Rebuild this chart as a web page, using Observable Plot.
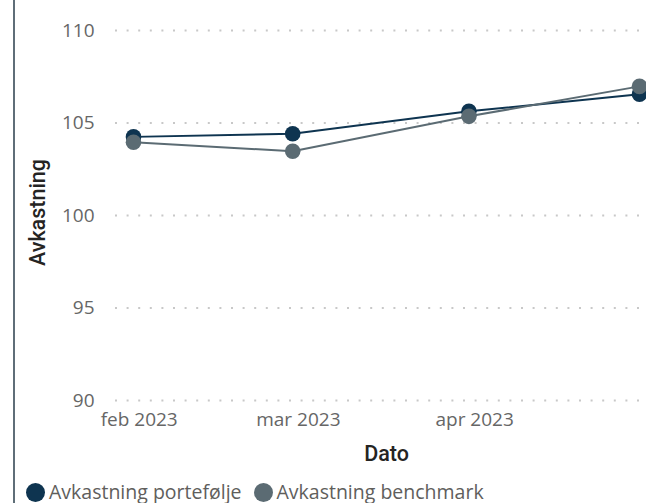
<!DOCTYPE html>
<html>
<head>
<meta charset="utf-8">
<script src="https://cdn.jsdelivr.net/npm/d3@7"></script>
<script src="https://cdn.jsdelivr.net/npm/@observablehq/plot@0.6"></script>
<style>
  html, body { margin: 0; padding: 0; background: #fff; overflow: hidden; }
  #wrap { position: relative; width: 646px; height: 503px; font-family: "Open Sans", "Noto Sans", sans-serif; }
  #edge { position: absolute; left: 13px; top: 0; width: 2px; height: 503px; background: #5f6e78; }
  #chart { position: absolute; left: 0; top: 0; }
  #legend { position: absolute; left: 26px; top: 480px; height: 24px; display: flex; align-items: center; font-size: 19.5px; color: #605e5c; white-space: nowrap; line-height: 24px; }
  .sw { display: inline-block; width: 19px; height: 19px; border-radius: 50%; margin-right: 4px; flex: none; }
  .item { display: flex; align-items: center; margin-right: 12px; }
</style>
</head>
<body>
<div id="wrap">
  <div id="edge"></div>
  <div id="chart"></div>
  <div id="legend"></div>
</div>
<script>
const dates = ["2023-01-31", "2023-02-28", "2023-03-31", "2023-04-30"];
const seriesNames = ["Avkastning portefølje", "Avkastning benchmark"];
const portefolje = [104.25, 104.42, 105.63, 106.56];
const benchmark = [103.96, 103.47, 105.36, 106.98];
const colors = ["#0e3450", "#5b6b73"];
const yTicks = [90, 95, 100, 105, 110];
const xTicks = ["2023-02-01", "2023-03-01", "2023-04-01"];
const xTickLabels = ["feb 2023", "mar 2023", "apr 2023"];
const xTitle = "Dato";
const yTitle = "Avkastning";

const data = [];
[portefolje, benchmark].forEach((vals, si) => {
  vals.forEach((v, i) => data.push({date: new Date(dates[i]), value: v, series: seriesNames[si]}));
});
const xTickDates = xTicks.map(d => new Date(d));
const labelFor = new Map(xTickDates.map((d, i) => [+d, xTickLabels[i]]));

const chart = Plot.plot({
  width: 646,
  height: 470,
  marginLeft: 133,
  marginRight: 7,
  marginTop: 30,
  marginBottom: 70,
  style: {fontFamily: "'Open Sans', 'Noto Sans', sans-serif", fontSize: "19px", background: "transparent"},
  x: {type: "utc", domain: [new Date(dates[0]), new Date(dates[dates.length - 1])]},
  y: {domain: [90, 110]},
  color: {domain: seriesNames, range: colors},
  marks: [
    Plot.ruleY(yTicks, {stroke: "#c8c8c8", strokeWidth: 2, strokeDasharray: "2,9.6", insetLeft: -18, insetRight: -7}),
    Plot.axisY({ticks: yTicks, tickSize: 0, tickPadding: 39, fill: "#666666", fontSize: 19, label: null}),
    Plot.axisX({ticks: xTickDates, tickSize: 0, tickPadding: 12, fill: "#666666", fontSize: 19,
      tickFormat: d => labelFor.get(+d), label: null}),
    Plot.text([yTitle], {frameAnchor: "left", textAnchor: "middle", rotate: -90, dx: -95, dy: -3,
      fontSize: 21.5, fontWeight: 500, fontFamily: "Roboto, 'Open Sans', sans-serif", fill: "#252423"}),
    Plot.text([xTitle], {frameAnchor: "bottom", dy: 60, fontSize: 21.5, fontWeight: 500,
      fontFamily: "Roboto, 'Open Sans', sans-serif", fill: "#252423"}),
    Plot.line(data, {x: "date", y: "value", z: "series", stroke: "series", strokeWidth: 2}),
    Plot.dot(data, {x: "date", y: "value", fill: "series", r: 7.8, stroke: "none"})
  ]
});
document.getElementById("chart").appendChild(chart);

const legend = document.getElementById("legend");
seriesNames.forEach((name, i) => {
  const item = document.createElement("span");
  item.className = "item";
  const sw = document.createElement("span");
  sw.className = "sw";
  sw.style.background = colors[i];
  item.appendChild(sw);
  item.appendChild(document.createTextNode(name));
  legend.appendChild(item);
});
</script>
</body>
</html>
